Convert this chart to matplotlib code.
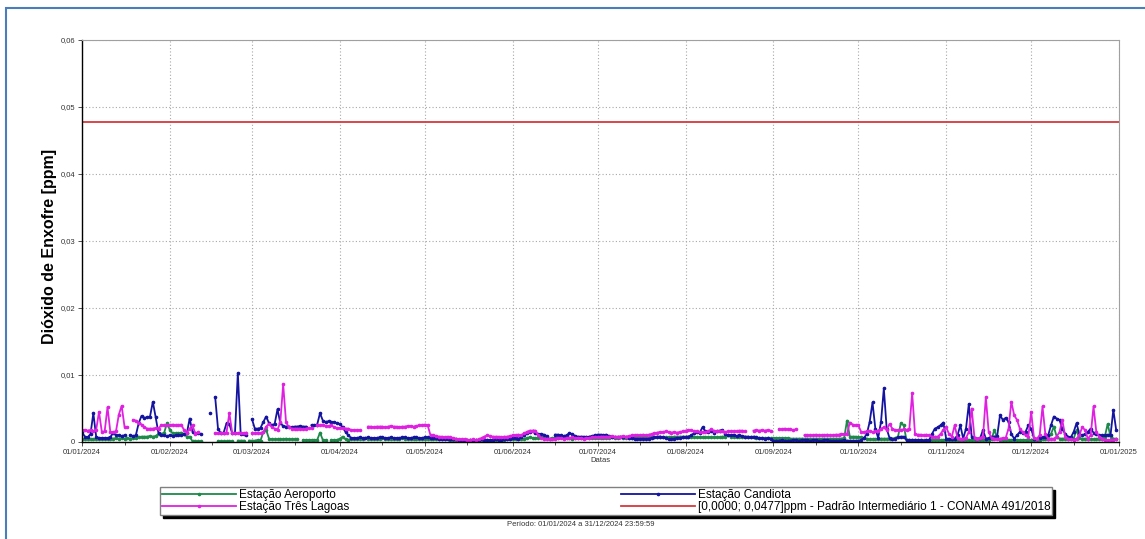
import numpy as np
import pandas as pd
import matplotlib
matplotlib.use('Agg')
import matplotlib.pyplot as plt
import matplotlib.dates as mdates
from matplotlib.patches import Rectangle

# valores diarios em 0,0001 ppm (N = sem dado)
N = np.nan
escala = 1e-4
dias = pd.date_range('2024-01-01', '2024-12-31', freq='D')

aeroporto = [
    4, 4, 4, 4, 4, 5, 4, 4, 4, 4, 5, 5, 6, 5, 6, 5, 6, 5, 6, 6, 7, 8, 8, 8, 9, 8, 9, 12, 12, 14, 28,
    18, 13, 13, 13, 14, 12, 8, 8, 1, 1, 1, 1, N, N, N, N, N, 1, 1, 1, 1, 1, 1, N, 2, 2, 2, N, 2,
    2, 2, 3, 2, 15, 18, 5, 4, 4, 4, 4, 4, 5, 4, 4, 4, 4, N, 3, 3, 3, 3, 3, 3, 14, 3, 3, N, 3, 3, 3,
    5, 8, 4, 3, 5, 5, 5, 5, 5, 6, 5, 5, 5, 5, 5, 6, 5, 5, 5, 5, 5, 5, 6, 5, 5, 5, 5, 5, 5, 5,
    5, 5, 5, 5, 4, 4, 4, 4, 4, 3, 3, 3, 3, 3, 3, 3, 3, 3, 3, 3, 3, 3, 3, 3, 3, 3, 3, 3, 3, 4, 4,
    4, 4, 4, 5, 5, 6, 7, 6, 6, 6, 7, 6, 6, 5, 6, 6, 6, 7, 6, 6, 6, 5, 6, 6, 6, 6, 7, 6, 6, 6,
    6, 6, 6, 6, 6, 7, 6, 6, 7, 6, 6, 6, 6, 7, 7, 7, 7, 7, 6, 7, 7, 7, 8, 7, 7, 7, 7, 8, 8, 8, 8,
    8, 8, 8, 8, 7, 7, 7, 7, 7, 7, 7, 7, 7, 8, 8, 10, 8, 7, 7, 7, 7, 7, 7, 7, 7, 6, 6, 6, 6, 6, 6,
    6, 6, 6, 6, 6, 6, 5, 5, 5, 5, 5, 5, 5, 5, 5, 5, 5, 5, 5, 5, 5, 5, 5, 5, 5, 6, 32, 8, 8, 8,
    7, 7, 6, 5, 4, 4, 4, 4, 5, 5, 5, 5, 5, 6, 8, 28, 25, 3, 3, 3, 3, 3, 3, 3, 3, 3, 3, 3, 3, 3, 3,
    3, 3, 3, 3, 3, 3, 3, 3, 3, 3, 3, 3, 3, 3, 3, 3, 4, 18, 6, 3, 3, 3, 3, 3, 3, 3, 3, 3, 3, 3,
    3, 3, 3, 3, 4, 4, 5, 12, 23, 8, 5, 5, 5, 5, 5, 5, 18, 6, 5, 5, 5, 4, 4, 4, 5, 5, 8, 27, 8, 5, 5,
]

candiota = [
    15, 8, 7, 12, 43, 8, 6, 6, 6, 6, 7, 14, 10, 10, 9, 10, N, 10, 9, 10, 28, 39, 36, 37, 38, 60, 37, 13, 10, 10, 9,
    10, 9, 10, 11, 10, 12, 13, 35, 15, 13, 13, 12, N, N, 44, N, 67, 20, 13, 14, 28, 27, 13, 14, 103, 12, 12, 11, N,
    34, 20, 20, 21, 30, 38, 28, 25, 27, 49, 28, 24, 23, 23, 22, 23, 23, 24, 23, 23, N, 25, 25, 26, 43, 32, 30, 31, 30, 30, 28,
    27, 22, 15, 10, 6, 6, 6, 7, 6, 6, 7, 6, 6, 6, 7, 7, 6, 6, 7, 6, 6, 6, 7, 7, 6, 6, 7, 7, 6, 6,
    7, 7, 6, 6, 6, 5, 5, 5, 5, 4, 4, 4, 3, 3, 3, 3, 3, 3, 3, 3, 4, 3, 3, 3, 3, 4, 3, 3, 4, 4, 5,
    6, 6, 5, 7, 10, 13, 15, 16, 14, 12, 12, 11, 9, N, N, 11, 11, 10, 9, 10, 13, 12, 9, 8, 8, 8, 7, 8, 9, 10,
    11, 11, 10, 11, 9, 8, 7, 7, 7, 7, 7, 6, 6, 5, 4, 4, 5, 4, 5, 6, 7, 8, 8, 7, 6, 4, 5, 5, 6, 6, 7,
    7, 8, 10, 13, 15, 14, 22, 16, 15, 16, 14, 16, 17, 18, 12, 10, 10, 11, 9, 10, 9, 8, 8, 7, 8, 7, 6, 6, 5, 6, 4,
    2, 2, 2, 3, 2, 2, 2, 3, 3, 2, 3, 3, 3, 2, 3, 3, 2, 2, 3, 3, 2, 2, 2, 2, 2, 3, 2, 2, 2, 2,
    2, 3, 6, 12, 30, 59, 20, 6, 30, 80, 20, 6, 4, 5, 7, 8, 8, 3, 3, 3, 3, 3, 3, 2, 3, 3, 12, 20, 22, 25, 29,
    5, 5, 4, 5, 10, 25, 5, 20, 57, 8, 6, 5, 6, 18, 5, 6, 8, 8, 9, 40, 33, 36, 30, 12, 5, 10, 15, 14, 15, 25,
    20, 5, 5, 6, 7, 8, 10, 25, 38, 35, 33, 20, 12, 8, 7, 15, 28, 12, 10, 12, 15, 20, 14, 12, 10, 10, 10, 11, 10, 48, 18,
]

tres_lagoas = [
    18, 18, 17, 18, 16, 18, 45, 15, 16, 52, 15, 15, 16, 41, 54, 23, 22, N, 33, 32, 28, 26, 22, 20, 20, 20, 21, 20, 25, 25, 25,
    25, 26, 25, 25, 26, 18, 14, 20, 25, 12, 15, N, N, N, N, N, 13, 13, 14, 13, 14, 43, 14, 13, 13, 14, 13, 14, N,
    13, 13, 14, 13, 15, 23, 27, 22, 20, 18, 30, 86, 30, 22, 20, 20, 20, 20, 19, 20, 21, 21, N, 25, 25, 26, 24, 24, 25, 22, 21,
    21, 21, 20, 20, 18, 18, 18, 18, N, N, 23, 23, 22, 23, 23, 23, 22, 23, 24, 23, 23, 22, 23, 23, 24, 24, 23, 24, 25, 25,
    26, 25, 10, 10, 9, 8, 8, 7, 8, 7, 6, 5, 4, 4, 4, 3, 3, 4, 3, 4, 6, 8, 10, 9, 8, 8, 8, 7, 8, 8, 9,
    10, 10, 11, 10, 13, 15, 17, 17, 17, 10, 6, 5, 5, 5, 4, 5, 6, 6, 5, 6, 6, 7, 6, 6, 6, 5, 6, 6, 7, 7,
    7, 8, 8, 8, 8, 9, 8, 8, 8, 9, 8, 9, 10, 10, 10, 10, 11, 10, 11, 12, 13, 14, 15, 15, 16, 15, 14, 15, 14, 15, 16,
    17, 18, 18, 16, 16, 15, 15, 15, 16, 19, 17, 16, 16, 16, 15, 16, 16, 16, 16, 17, 17, 16, N, N, 17, 18, 17, 18, 17, 18, 17,
    N, N, 19, 19, 20, 19, 19, 18, 19, N, N, 10, 10, 10, 10, 11, 10, 10, 10, 11, 10, 10, 11, 11, 12, 12, 12, 29, 26, 25,
    25, 15, 15, 16, 17, 15, 16, 17, 20, 22, 18, 27, 20, 18, 18, 18, 19, 18, 20, 73, 12, 11, 11, 10, 11, 10, 8, 8, 8, 12, 18,
    22, 12, 8, 25, 6, 5, 5, 6, 15, 50, 6, 5, 6, 8, 67, 15, 6, 5, 5, 5, 6, 6, 20, 60, 40, 33, 20, 15, 10, 8,
    45, 6, 5, 10, 53, 12, 5, 5, 5, 8, 15, 33, 8, 5, 4, 3, 5, 10, 22, 18, 5, 10, 53, 15, 8, 5, 3, 3, 3, 3, 4,
]

limite_conama = 0.0477
periodo = [pd.Timestamp('2024-01-01'), pd.Timestamp('2025-01-01')]

rotulos = ['Estação Aeroporto', 'Estação Candiota', 'Estação Três Lagoas',
           '[0,0000; 0,0477]ppm - Padrão Intermediário 1 - CONAMA 491/2018']

plt.rcParams['font.family'] = ['Liberation Sans', 'DejaVu Sans']

fig = plt.figure(figsize=(11.45, 5.39), dpi=100)
ax = fig.add_axes([82 / 1145, 1 - 442 / 539, (1119 - 82) / 1145, (442 - 40) / 539])

estilo = dict(lw=1.3, marker='o', ms=1.6)
l_aero, = ax.plot(dias, np.array(aeroporto) * escala, color='#1e8a4a', **estilo)
l_cand, = ax.plot(dias, np.array(candiota) * escala, color='#1414a0', **estilo)
l_tres, = ax.plot(dias, np.array(tres_lagoas) * escala, color='#e020e0', **estilo)
l_lim, = ax.plot(periodo, [limite_conama, limite_conama], color='#d8383c', lw=1.3)

ax.set_xlim(periodo)
ax.set_ylim(0, 0.06)
ax.set_yticks(np.arange(0, 0.061, 0.01))
ax.set_yticklabels(['0', '0,01', '0,02', '0,03', '0,04', '0,05', '0,06'])
ax.xaxis.set_major_locator(mdates.MonthLocator())
ax.xaxis.set_minor_locator(mdates.MonthLocator(bymonthday=16))
ax.xaxis.set_major_formatter(mdates.DateFormatter('%d/%m/%Y'))
ax.tick_params(axis='both', labelsize=5.5, colors='#333333', length=3, width=0.6, pad=2)
ax.tick_params(axis='x', which='minor', length=2, width=0.6, colors='#333333')
ax.grid(True, color='#a8a8a8', linestyle=(0, (1, 2)), linewidth=0.8)

for lado in ['top', 'right']:
    ax.spines[lado].set_color('#a0a0a0')
for lado in ['left', 'bottom']:
    ax.spines[lado].set_color('black')
    ax.spines[lado].set_linewidth(1.0)

ax.set_xlabel('Datas', fontsize=5.5, color='#333333', labelpad=1)
ax.set_ylabel('Dióxido de Enxofre [ppm]', fontsize=11.5, fontweight='bold')
ax.yaxis.set_label_coords(-0.024, 0.487)

leg = fig.legend([l_aero, l_tres, l_cand, l_lim],
                 [rotulos[0], rotulos[2], rotulos[1], rotulos[3]],
                 ncol=2, mode='expand', numpoints=1, fontsize=8.5,
                 bbox_to_anchor=(160 / 1145, 1 - 515 / 539, 892 / 1145, 31 / 539),
                 loc='lower left', handlelength=6.3, handletextpad=0.2,
                 labelspacing=0.05, borderpad=0.15, borderaxespad=0,
                 fancybox=False, shadow={'color': 'black', 'alpha': 1},
                 edgecolor='#808080', framealpha=1)
leg.get_frame().set_linewidth(1.0)

fig.text(581 / 1145, 1 - 524 / 539, 'Período: 01/01/2024 a 31/12/2024 23:59:59',
         fontsize=5.5, color='#333333', ha='center', va='center')

# moldura azul
fig.patches.append(Rectangle((6 / 1145, -0.1), 1.2, 1.1 - 8 / 539, transform=fig.transFigure,
                             fill=False, edgecolor='#4a7ebb', lw=1.5, clip_on=False))

fig.savefig('out.png', dpi=100)
